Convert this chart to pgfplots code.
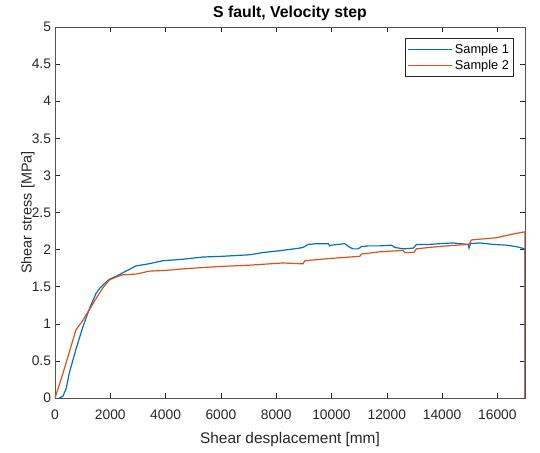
\documentclass[border=0pt]{standalone}
\usepackage{pgfplots}
\pgfplotsset{compat=1.18}
\usepackage{fontspec}
\setmainfont{Liberation Sans}
\definecolor{mblue}{rgb}{0,0.447,0.741}
\definecolor{morange}{rgb}{0.850,0.325,0.098}
\definecolor{axgray}{rgb}{0.15,0.15,0.15}
\begin{document}
\begin{tikzpicture}
\begin{axis}[
  at={(0,0)}, anchor=south west,
  scale only axis, width=470pt, height=371pt,
  xmin=0, xmax=17000, ymin=0, ymax=5,
  xtick={0,2000,...,16000},
  ytick={0,0.5,...,5},
  yticklabels={0,0.5,1,1.5,2,2.5,3,3.5,4,4.5,5},
  scaled x ticks=false,
  /pgf/number format/1000 sep={},
  /pgf/number format/assume math mode=true,
  tick align=inside,
  major tick length=5pt,
  axis line style={axgray!80, line width=0.6pt},
  tick style={axgray, line width=0.5pt},
  ticklabel style={font=\fontsize{13.8}{15}\selectfont, text=axgray},
  xticklabel style={anchor=base, yshift=-21.3pt},
  yticklabel style={xshift=-0.5pt},
  xlabel={Shear desplacement [mm]},
  ylabel={Shear stress [MPa]},
  xlabel style={font=\fontsize{15.4}{17}\selectfont, text=axgray,
    at={([yshift=-45pt]axis description cs:0.5,0)}, anchor=base},
  ylabel style={font=\fontsize{14.4}{16}\selectfont, text=axgray,
    at={([xshift=-23.3pt]axis description cs:0,0.5)}, anchor=base},
  title={S fault, Velocity step},
  title style={font=\fontsize{15.8}{17}\selectfont\bfseries,
    at={([yshift=3.7pt]axis description cs:0.5,1)}, anchor=base},
  legend style={at={(0.975,0.9695)}, anchor=north east, draw=axgray, line width=0.5pt,
    font=\fontsize{12.8}{14}\selectfont, inner xsep=2pt, inner ysep=3.5pt, row sep=1pt,
    cells={anchor=west}},
  legend image code/.code={\draw[#1] (0pt,0pt) -- (44pt,0pt);},
]
\addplot[color=mblue, draw=mblue, line width=1.2pt] coordinates {
(150,0) (280,0.02) (400,0.12) (519,0.34) (760,0.66) (1001,0.95) (1242,1.20)
(1484,1.41) (1600,1.47) (1725,1.52) (1966,1.60) (2207,1.64) (2569,1.71)
(2931,1.78) (3414,1.81) (3896,1.85) (4620,1.87) (5344,1.90) (6068,1.91)
(7033,1.93) (7515,1.96) (8239,1.99) (8842,2.02) (8976,2.03) (9157,2.07)
(9458,2.08) (9880,2.08) (9940,2.05) (10000,2.06) (10482,2.08) (10663,2.03)
(10783,2.01) (10964,2.01) (11084,2.04) (11325,2.05) (11747,2.05) (12169,2.06)
(12289,2.03) (12590,2.01) (12952,2.02) (13012,2.04) (13072,2.07) (13554,2.07)
(13916,2.08) (14398,2.09) (14639,2.08) (14940,2.07) (14976,2.02) (15024,2.08)
(15361,2.09) (15843,2.07) (16325,2.06) (16687,2.04) (17000,2.01) (17000,0)
};
\addlegendentry{Sample 1}
\addplot[color=morange, draw=morange, line width=1.2pt] coordinates {
(0,0) (277,0.32) (519,0.62) (760,0.92) (1001,1.04) (1122,1.12) (1242,1.19)
(1484,1.34) (1725,1.48) (1966,1.59) (2207,1.63) (2448,1.66) (2931,1.67)
(3414,1.71) (4016,1.72) (4620,1.74) (5826,1.77) (7033,1.79) (8239,1.82)
(8842,1.81) (8976,1.81) (9036,1.85) (9940,1.88) (11024,1.91) (11084,1.94)
(11747,1.97) (12590,1.99) (12651,1.96) (12976,1.96) (13072,2.01) (13554,2.03)
(14157,2.05) (14940,2.07) (15000,2.08) (15060,2.13) (15361,2.14) (15964,2.16)
(16566,2.21) (17000,2.24) (17000,0)
};
\addlegendentry{Sample 2}
\end{axis}
\pgfresetboundingbox
\path[use as bounding box] (-55pt,-54pt) rectangle (485pt,398pt);
\end{tikzpicture}
\end{document}
